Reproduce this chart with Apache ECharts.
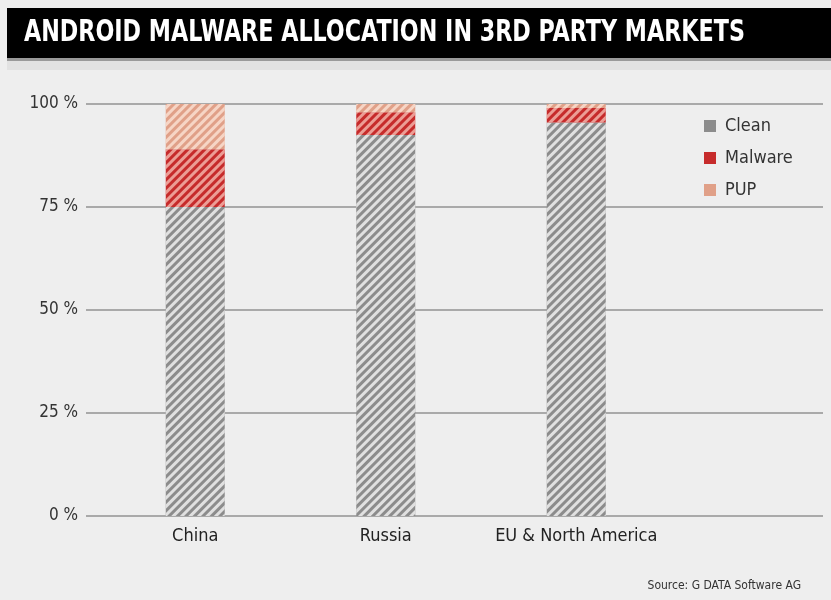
<!DOCTYPE html>
<html>
<head>
<meta charset="utf-8">
<script src="https://cdn.jsdelivr.net/npm/echarts@6/dist/echarts.min.js"></script>
<style>
html,body{margin:0;padding:0;background:#eeeeee;}
#chart{width:831px;height:600px;}
</style>
</head>
<body>
<div id="chart"></div>
<script>
var categories = ['China', 'Russia', 'EU & North America'];
var cleanValues = [75, 92.5, 95.5];
var malwareValues = [14, 5.5, 3.5];
var pupValues = [11, 2, 1];

var FONT = "'DejaVu Sans Condensed', 'Liberation Sans Narrow', 'Open Sans', sans-serif";
var TITLE = 'ANDROID MALWARE ALLOCATION IN 3RD PARTY MARKETS';
var TITLE_FONT = "bold 30px 'DejaVu Sans Condensed', 'DejaVu Sans', sans-serif";

var ctx = document.createElement('canvas').getContext('2d');
ctx.font = TITLE_FONT;
var titleScale = 721 / ctx.measureText(TITLE).width;

function hatch(c) {
  return {
    symbol: 'rect',
    symbolSize: 1,
    dashArrayX: [1, 0],
    dashArrayY: [2.5, 2.5],
    rotation: -Math.PI / 4,
    color: c
  };
}

var chart = echarts.init(document.getElementById('chart'));
chart.setOption({
  backgroundColor: '#eeeeee',
  animation: false,
  graphic: [
    { type: 'rect', shape: { x: 7, y: 8, width: 824, height: 50 }, style: { fill: '#000000' } },
    { type: 'rect', shape: { x: 7, y: 58, width: 824, height: 3 }, style: { fill: '#9a9a9a' } },
    { type: 'rect', shape: { x: 7, y: 61, width: 824, height: 9 }, style: { fill: '#e2e2e2' } },
    {
      type: 'text', x: 24, y: 33, scaleX: titleScale,
      style: { text: TITLE, font: TITLE_FONT, fill: '#ffffff', textVerticalAlign: 'middle', verticalAlign: 'middle' }
    }
  ],
  title: [
    {
      text: 'Source: G DATA Software AG',
      right: 25, top: 575,
      textStyle: { color: '#333333', fontFamily: FONT, fontWeight: 'normal', fontSize: 12 }
    }
  ],
  legend: {
    orient: 'vertical',
    left: 699, top: 112,
    itemWidth: 12, itemHeight: 12, itemGap: 14,
    icon: 'rect',
    data: [
      { name: 'Clean', itemStyle: { decal: 'none' } },
      { name: 'Malware', itemStyle: { decal: 'none' } },
      { name: 'PUP', itemStyle: { decal: 'none' } }
    ],
    textStyle: { color: '#333333', fontFamily: FONT, fontSize: 18, padding: [0, 0, 0, 4] }
  },
  grid: [
    { left: 86, right: 8, top: 104, height: 412 },
    { left: 100, width: 571.5, top: 104, height: 412 }
  ],
  xAxis: [
    { type: 'category', gridIndex: 0, data: [''], show: false },
    {
      type: 'category', gridIndex: 1, data: categories,
      axisLine: { show: false }, axisTick: { show: false },
      axisLabel: { interval: 0, color: '#222222', fontFamily: FONT, fontSize: 18, margin: 11 }
    }
  ],
  yAxis: [
    {
      type: 'value', gridIndex: 0, min: 0, max: 100, interval: 25,
      axisLine: { show: false }, axisTick: { show: false },
      axisLabel: { formatter: '{value} %', color: '#333333', fontFamily: FONT, fontSize: 17, margin: 8 },
      splitLine: { lineStyle: { color: '#a9a9a9', width: 2 } }
    },
    {
      type: 'value', gridIndex: 1, min: 0, max: 100, interval: 25, show: false,
      splitLine: { show: false }
    }
  ],
  series: [
    {
      name: 'Clean', type: 'bar', stack: 's', xAxisIndex: 1, yAxisIndex: 1,
      barWidth: 59, data: cleanValues,
      itemStyle: { color: '#8c8c8c', decal: hatch('rgba(238,238,238,0.85)') }
    },
    {
      name: 'Malware', type: 'bar', stack: 's', xAxisIndex: 1, yAxisIndex: 1,
      barWidth: 59, data: malwareValues,
      itemStyle: { color: '#c62b2b', decal: hatch('rgba(245,185,175,0.8)') }
    },
    {
      name: 'PUP', type: 'bar', stack: 's', xAxisIndex: 1, yAxisIndex: 1,
      barWidth: 59, data: pupValues,
      itemStyle: { color: '#e0a088', decal: hatch('rgba(250,222,208,0.85)') }
    }
  ]
});
</script>
</body>
</html>
